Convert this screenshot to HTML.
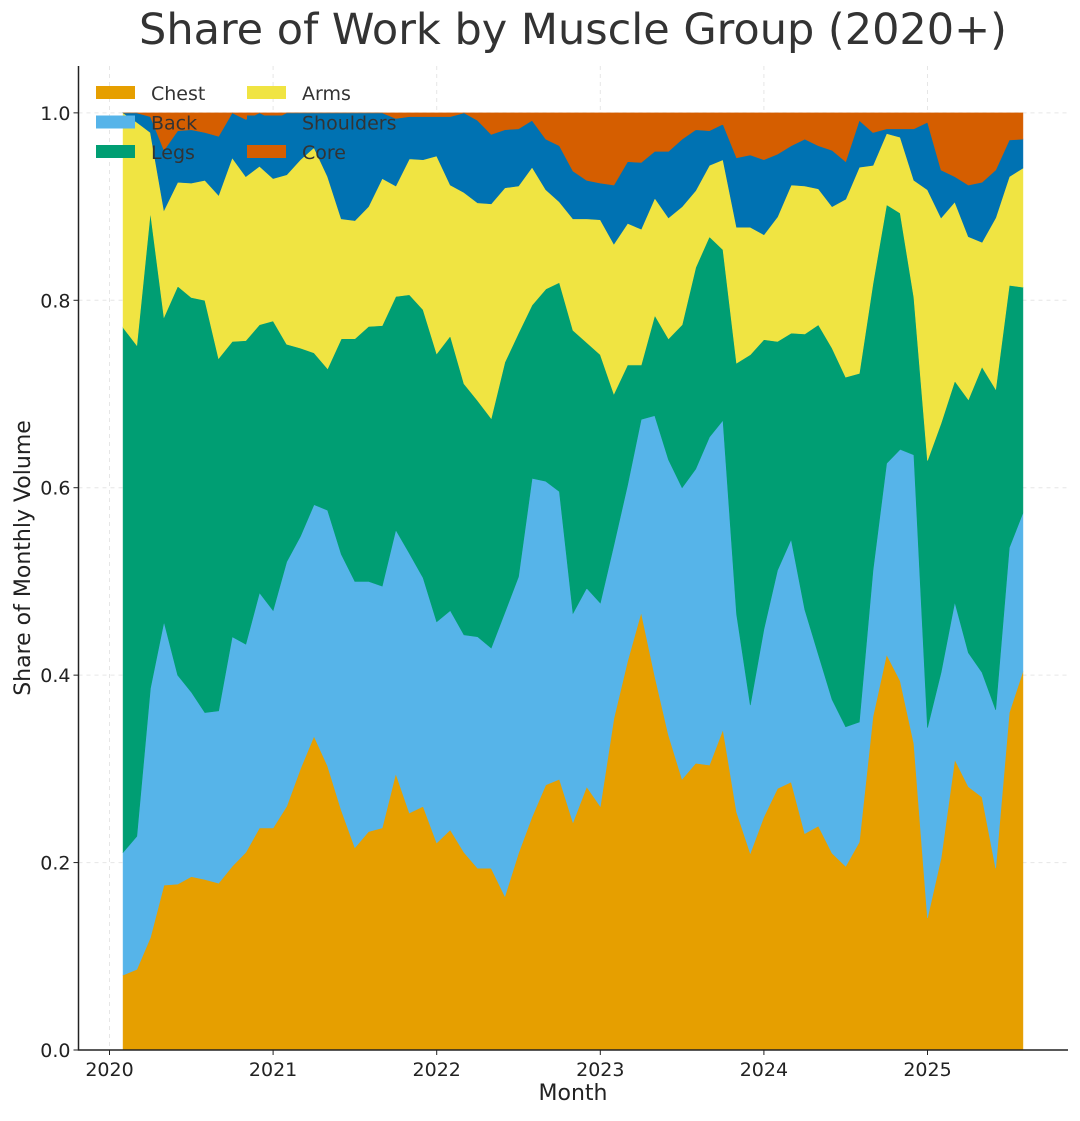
<!DOCTYPE html>
<html><head><meta charset="utf-8"><style>
body{margin:0;background:#fff;}
svg text{font-family:"DejaVu Sans","Liberation Sans",sans-serif;}
</style></head><body>
<svg id="chart" width="1080" height="1116" xmlns="http://www.w3.org/2000/svg">
<text x="573" y="44" text-anchor="middle" font-size="43" fill="#333">Share of Work by Muscle Group (2020+)</text>
<g id="grid"></g><g id="areas"></g><g id="axes"></g>
<text x="573" y="1100" text-anchor="middle" font-size="22" fill="#222">Month</text>
<text transform="translate(30,558) rotate(-90)" text-anchor="middle" font-size="22" fill="#222">Share of Monthly Volume</text>
<g id="legend"></g>
</svg>
<script>
const seriesNames=["Chest","Back","Legs","Arms","Shoulders","Core"];
const seriesColors=["#E69F00","#56B4E9","#009E73","#F0E442","#0072B2","#D55E00"];
const chest=[80,86,120,176,177,185,182,178,196,211,237,237,260,300,335,303,256,216,233,237,295,253,260,221,235,211,194,194,164,210,249,283,289,243,281,260,354,415,467,399,336,289,306,304,342,254,210,249,279,286,231,239,210,196,222,356,422,394,327,141,205,310,281,270,194,360,404];
const back=[131,142,266,281,223,197,178,184,245,222,251,232,261,248,247,273,273,284,267,258,260,277,244,236,234,232,247,235,303,295,361,324,307,223,212,217,185,188,206,278,294,311,314,350,330,211,158,200,233,259,239,183,164,149,128,156,204,247,308,203,198,168,143,133,169,176,169];
const legs=[560,524,508,325,415,421,440,376,315,324,286,309,232,201,162,151,230,259,272,278,249,276,286,286,293,268,252,245,267,260,185,205,223,302,262,265,161,128,58,107,129,174,215,214,182,268,374,309,244,220,294,352,375,373,372,306,276,252,168,285,266,236,270,326,342,280,241];
const arms=[229,238,85,114,111,122,128,174,196,175,169,152,181,201,219,205,128,126,128,157,118,145,160,211,161,204,211,229,186,157,147,106,86,119,132,144,160,151,145,125,129,126,82,76,96,145,136,112,133,158,158,145,151,190,220,126,76,81,125,289,219,191,174,133,183,116,127];
const shoulders=[0,10,17,64,55,57,51,63,48,61,57,63,66,50,37,68,113,115,100,70,72,45,46,42,73,85,88,74,62,61,50,54,60,51,41,39,63,66,71,50,71,72,65,37,38,74,77,80,67,42,50,46,60,40,50,35,5,9,55,72,51,27,55,64,51,39,31];
const core=[0,0,4,40,19,18,21,25,0,7,0,7,0,0,0,0,0,0,0,0,6,4,4,4,4,0,8,23,18,17,8,28,35,62,72,75,77,52,53,41,41,28,18,19,12,48,45,50,44,35,28,35,40,52,8,21,17,17,17,10,61,68,77,74,61,29,28];
const yTicks=[0,0.2,0.4,0.6,0.8,1.0];
const xTickYears=[2020,2021,2022,2023,2024,2025];
const startYear=2020,startMonth=1;

const NS="http://www.w3.org/2000/svg";
const X0=78.5,X1=1068,Y0=1050,Y1=66;
const yMax=1.05;
const xs=t=>109.5+(t-2020)*163.6;
const ys=v=>Y0-v/yMax*(Y0-Y1);
function mk(tag,attrs,parent){const e=document.createElementNS(NS,tag);for(const k in attrs)e.setAttribute(k,attrs[k]);parent.appendChild(e);return e;}
const grid=document.getElementById('grid'),areas=document.getElementById('areas'),axes=document.getElementById('axes'),legend=document.getElementById('legend');
yTicks.forEach(v=>{
  const l=mk('line',{x1:X0,x2:X1,y1:ys(v),y2:ys(v),stroke:'#e6e6e6','stroke-dasharray':'4,4','stroke-width':1},grid);
  
  
});
xTickYears.forEach(yr=>{
  const l=mk('line',{x1:xs(yr),x2:xs(yr),y1:Y1,y2:Y0,stroke:'#e6e6e6','stroke-dasharray':'4,4','stroke-width':1},grid);
  
  
});
const data=[chest,back,legs,arms,shoulders,core];
const n=chest.length;
const tx=[];for(let i=0;i<n;i++)tx.push(startYear+(startMonth+i)/12);
let base=new Array(n).fill(0);
data.forEach((s,k)=>{
  const top=base.map((b,i)=>b+s[i]/1000);
  let pts=[];
  for(let i=0;i<n;i++)pts.push(xs(tx[i]).toFixed(1)+','+ys(top[i]).toFixed(1));
  for(let i=n-1;i>=0;i--)pts.push(xs(tx[i]).toFixed(1)+','+ys(base[i]).toFixed(1));
  const p=mk('polygon',{points:pts.join(' '),fill:seriesColors[k],stroke:seriesColors[k],'stroke-width':0.6},areas);
  
  
  base=top;
});
const sp=mk('path',{d:`M${X0},${Y1} V${Y0} H${X1}`,stroke:'#222',fill:'none','stroke-width':1.5},axes);


yTicks.forEach(v=>{
  const t=mk('line',{x1:X0-5,x2:X0,y1:ys(v),y2:ys(v),stroke:'#222'},axes);
  
  
  const tl=mk('text',{x:X0-8,y:ys(v)+7,'text-anchor':'end','font-size':19,fill:'#222'},axes);
  tl.textContent=v.toFixed(1);
  
  
});
xTickYears.forEach(yr=>{
  const t=mk('line',{x1:xs(yr),x2:xs(yr),y1:Y0,y2:Y0+5,stroke:'#222'},axes);
  
  
  const tl=mk('text',{x:xs(yr),y:Y0+26,'text-anchor':'middle','font-size':19,fill:'#222'},axes);
  tl.textContent=yr;
  
  
});
seriesNames.forEach((nm,k)=>{
  const col=Math.floor(k/3),row=k%3;
  const lx=96+col*151,ly=86+row*29.5;
  const g=mk('g',{},legend);
  
  
  mk('rect',{x:lx,y:ly,width:39,height:13,fill:seriesColors[k]},g);
  const t=mk('text',{x:lx+55,y:ly+14,'font-size':19,fill:'#333'},g);
  t.textContent=nm;
});
</script>
</body></html>
